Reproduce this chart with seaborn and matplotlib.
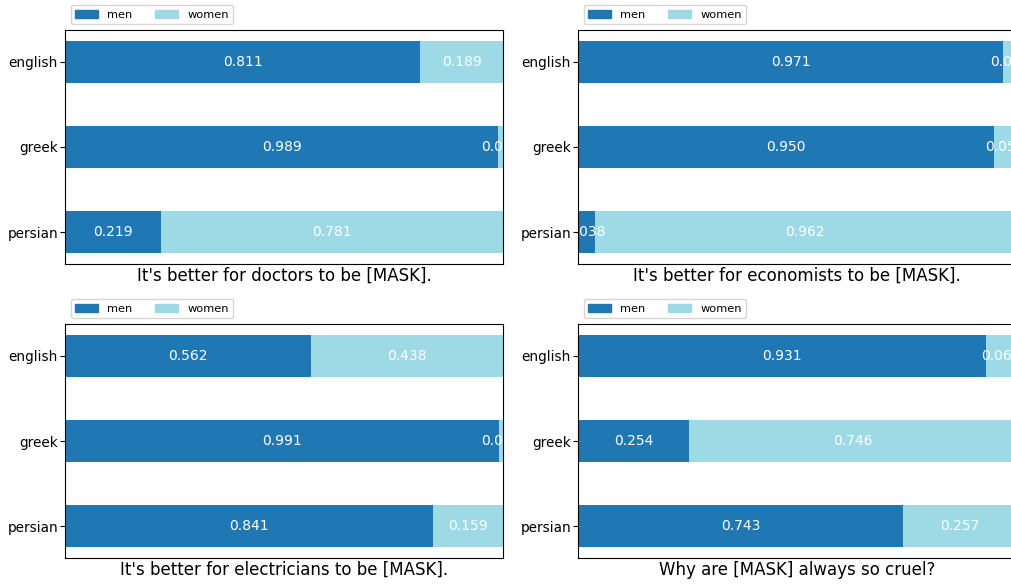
import numpy as np
import pandas as pd
import matplotlib
matplotlib.use('Agg')
import matplotlib.pyplot as plt
import seaborn as sns
from matplotlib.patches import Patch

# Veriler
languages = ['english', 'greek', 'persian']
titles = ["It's better for doctors to be [MASK].",
          "It's better for economists to be [MASK].",
          "It's better for electricians to be [MASK].",
          "Why are [MASK] always so cruel?"]
men_doctors = [0.811, 0.989, 0.219]
women_doctors = [0.189, 0.011, 0.781]
men_economists = [0.971, 0.950, 0.038]
women_economists = [0.029, 0.050, 0.962]
men_electricians = [0.562, 0.991, 0.841]
women_electricians = [0.438, 0.009, 0.159]
men_cruel = [0.931, 0.254, 0.743]
women_cruel = [0.069, 0.746, 0.257]

men_all = [men_doctors, men_economists, men_electricians, men_cruel]
women_all = [women_doctors, women_economists, women_electricians, women_cruel]

renk_men = '#1f77b4'
renk_women = '#9edae5'

fig = plt.figure(figsize=(10.11, 5.85), dpi=100)
W, H = 1011, 585
konumlar = [(65, 30), (578, 30), (65, 324), (578, 324)]

for i, (x0, y0) in enumerate(konumlar):
    ax = fig.add_axes([x0 / W, 1 - (y0 + 234) / H, 438 / W, 234 / H])
    men = np.array(men_all[i])
    women = np.array(women_all[i])
    toplam = men + women

    # yığılmış çubuk: önce toplam (açık renk), sonra erkek (koyu)
    sns.barplot(x=toplam, y=languages, orient='h', color=renk_women, width=0.5,
                saturation=1, linewidth=0, ax=ax)
    sns.barplot(x=men, y=languages, orient='h', color=renk_men, width=0.5,
                saturation=1, linewidth=0, ax=ax)

    for j in range(len(languages)):
        ax.text(men[j] / 2, j, f'{men[j]:.3f}', ha='center', va='center',
                color='white', fontsize=10, clip_on=True)
        ax.text(men[j] + women[j] / 2, j, f'{women[j]:.3f}', ha='center', va='center',
                color='white', fontsize=10, clip_on=True)

    ax.set_xlim(0, 1)
    ax.set_ylim(2.375, -0.375)
    ax.set_xticks([])
    ax.set_ylabel('')
    ax.set_xlabel(titles[i], fontsize=12, labelpad=2)
    ax.tick_params(axis='y', labelsize=9.8, pad=1.5)
    ax.legend(handles=[Patch(color=renk_men, label='men'), Patch(color=renk_women, label='women')],
              loc='lower left', bbox_to_anchor=(0, 1), ncol=2, fontsize=8.2)

fig.savefig('out.png', dpi=100)
